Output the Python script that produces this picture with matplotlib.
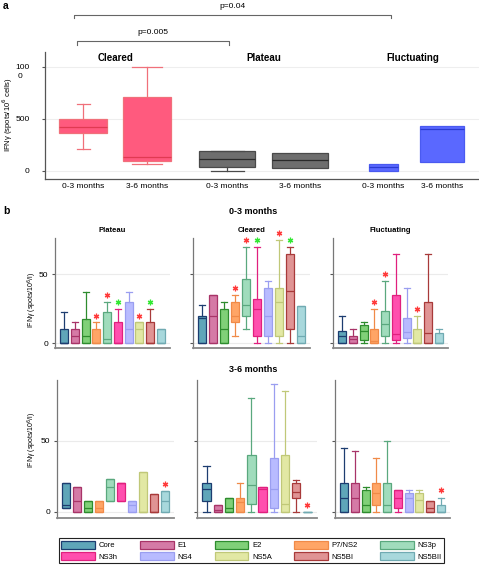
import matplotlib
matplotlib.use("Agg")
import matplotlib.pyplot as plt
from matplotlib.lines import Line2D
from matplotlib.patches import Patch

plt.rcParams['font.family'] = ['Liberation Sans', 'DejaVu Sans']

W, H = 479, 568

# ---- panel a data (IFNg spots / 10^6 cells) ----
a_groups = ['Cleared', 'Plateau', 'Fluctuating']
a_ticklabels = ['0-3 months', '3-6 months'] * 3
a_whislo = [210, 65, 0, 25, 0, 90]
a_q1 = [365, 95, 40, 25, 0, 90]
a_med = [420, 135, 115, 110, 40, 400]
a_q3 = [500, 710, 190, 170, 70, 435]
a_whishi = [640, 1000, 190, 170, 70, 435]
a_pvals = ['p=0.005', 'p=0.04']

# ---- panel b data: (whislo, q1, med, q3, whishi) per antigen ----
antigens = ['Core', 'E1', 'E2', 'P7/NS2', 'NS3p', 'NS3h', 'NS4', 'NS5A', 'NS5BI', 'NS5BII']
b_titles = ['Plateau', 'Cleared', 'Fluctuating']

early_plateau = [(0, 0, 0, 10, 22.5), (0, 0, 5.3, 10, 15), (0, 0, 5.3, 17.4, 37),
                 (0, 0, 0, 10, 15), (0, 0, 3, 22.5, 30), (0, 0, 0, 15, 25),
                 (0, 0, 10, 30, 37), (0, 0, 10, 15, 15), (0, 0, 0, 15, 25),
                 (0, 0, 0, 10, 10)]
early_cleared = [(0, 0, 18, 20, 28), (0, 0, 20, 35, 35), (0, 0, 10, 25, 30),
                 (5, 15, 20, 30, 35), (10, 20, 28, 47, 70), (0, 5, 25, 32, 70),
                 (0, 5, 20, 40, 45), (0, 5, 30, 40, 75), (0, 10, 38, 65, 70),
                 (0, 0, 5, 27, 27)]
early_fluct = [(0, 0, 5, 9, 20), (0, 0, 3, 5, 10), (0, 2.5, 9, 13, 15.5),
               (0, 0, 1.3, 10, 25), (0, 5, 14, 23.5, 45), (0, 2.3, 6.5, 35, 65),
               (0, 4, 8, 18.5, 40), (0, 0, 0, 10, 20), (0, 0, 7, 30, 65),
               (0, 0, 0, 7.5, 10)]
late_plateau = [(2.8, 2.8, 5, 20, 20), (0, 0, 7.7, 17.6, 17.6), (0, 0, 2.8, 7.7, 7.7),
                (0, 0, 2.8, 7.7, 7.7), (7.7, 7.7, 17.6, 22.8, 22.8), (7.7, 7.7, 20, 20, 20),
                (0, 0, 5, 7.7, 7.7), (0, 0, 0, 27.7, 27.7), (0, 0, 0, 12.7, 12.7),
                (0, 0, 7.7, 14.8, 14.8)]
late_cleared = [(0, 7.5, 16.2, 20, 32.4), (0, 0, 1.4, 4.7, 4.7), (0, 0, 2.3, 9.9, 9.9),
                (0, 0, 6.6, 9.9, 20), (0, 5.2, 18.8, 40, 80), (0, 0, 16.2, 17.4, 17.4),
                (0, 2.3, 16.2, 37.6, 90), (0, 0, 5.2, 40, 85), (0, 9.9, 13.6, 20, 22.3),
                (0, 0, 0, 0, 0)]
late_fluct = [(0, 0, 10, 20, 45), (0, 0, 10, 20, 42.7), (0, 0, 5, 15, 17.7),
              (0, 5, 13, 20, 38), (0, 0, 5, 20, 50), (0, 2.7, 10, 15, 15),
              (0, 0, 10, 13, 15), (0, 0, 8, 13, 15), (0, 0, 2.7, 7.8, 7.8),
              (0, 0, 0, 5, 10)]

# significance stars: (antigen index, 'r' or 'g')
early_stars = [[(3, 'r'), (4, 'r'), (5, 'g'), (7, 'r'), (8, 'g')],
               [(3, 'r'), (4, 'r'), (5, 'g'), (7, 'r'), (8, 'g')],
               [(3, 'r'), (4, 'r'), (7, 'r')]]
late_stars = [[(9, 'r')], [(9, 'r')], [(9, 'r')]]

fills = ['#5fa6b9', '#d57aa6', '#80d078', '#ffa566', '#a0dcbc',
         '#ff4fae', '#b8bbff', '#e2e8a4', '#e09494', '#a8d8dc']
edges = ['#1d3d70', '#a83468', '#2e8c2e', '#f08a48', '#5aa87e',
         '#e0207e', '#9a9ef0', '#c0c878', '#a83a3a', '#70aab2']
star_col = {'r': '#ff3b3b', 'g': '#33e833'}


def px_axes(fig, l, t, r, b):
    return fig.add_axes([l / W, 1 - b / H, (r - l) / W, (b - t) / H])


fig = plt.figure(figsize=(W / 100, H / 100), dpi=100)

# ================= panel a =================
axa = px_axes(fig, 45, 52, 479, 179)
a_pos = [38, 102, 182, 255, 338, 397]
a_wid = [48, 48, 56, 56, 29, 44]
a_cap = [13, 30, 33, 0, 0, 0]
a_fill = ['#ff5a7e', '#ff5a7e', '#6e6e6e', '#6e6e6e', '#5a68ff', '#5a68ff']
a_edge = ['#f0707a', '#f0707a', '#4a4a4a', '#4a4a4a', '#4a5af0', '#4a5af0']
a_medc = ['#e03a52', '#e03a52', '#2a2a2a', '#2a2a2a', '#2a3ad0', '#2a3ad0']

stats = [dict(whislo=a_whislo[i], q1=a_q1[i], med=a_med[i], q3=a_q3[i],
              whishi=a_whishi[i], fliers=[]) for i in range(6)]
res = axa.bxp(stats, positions=a_pos, widths=a_wid, capwidths=a_cap,
              patch_artist=True, showfliers=False, manage_ticks=False)
for i in range(6):
    res['boxes'][i].set_facecolor(a_fill[i])
    res['boxes'][i].set_edgecolor(a_edge[i])
    res['boxes'][i].set_linewidth(0.9)
    res['medians'][i].set_color(a_medc[i])
    res['medians'][i].set_linewidth(0.9)
    for ln in res['whiskers'][2 * i:2 * i + 2] + res['caps'][2 * i:2 * i + 2]:
        ln.set_color(a_edge[i])
        ln.set_linewidth(0.9)

axa.set_xlim(0, 434)
axa.set_ylim(-77, 1144)
axa.set_yticks([0, 500, 1000])
axa.set_yticklabels(['0', '500', '100'])
axa.set_xticks(a_pos)
axa.set_xticklabels(a_ticklabels)
axa.tick_params(axis='x', length=0, pad=3, labelsize=6)
axa.tick_params(axis='y', length=2, pad=9, labelsize=6, color='#555555')
axa.grid(axis='y', color='#eeeeee', linewidth=0.8)
axa.set_axisbelow(True)
for s in ['top', 'right']:
    axa.spines[s].set_visible(False)
for s in ['left', 'bottom']:
    axa.spines[s].set_color('#555555')
    axa.spines[s].set_linewidth(0.9)
fig.text(20.5 / W, 1 - 77 / H, '0', ha='center', va='center', fontsize=6)

for gi, g in enumerate(a_groups):
    cx = (a_pos[2 * gi] + a_pos[2 * gi + 1]) / 2
    axa.text(cx, 1087, g, ha='center', va='center', fontsize=7, fontweight='bold')

# brackets
def ypx(v):
    return (171 - v) * 1000 / 104

for (x0, x1, yb, yt, ty, lab) in [(32, 184, 41, 45, 33, a_pvals[0]),
                                   (29, 346, 15, 18, 7, a_pvals[1])]:
    axa.plot([x0, x0, x1, x1], [ypx(yt), ypx(yb), ypx(yb), ypx(yt)],
             color='#666666', lw=0.8, clip_on=False)
    axa.text((x0 + x1) / 2, ypx(ty), lab, ha='center', va='center', fontsize=6)

fig.text(8 / W, 1 - 115 / H, 'IFNγ (spots/10$^6$ cells)', rotation=90,
         ha='center', va='center', fontsize=5.5)
fig.text(3 / W, 1 - 6 / H, 'a', fontsize=7.5, fontweight='bold', va='center')

# ================= panel b =================
fig.text(3 / W, 1 - 211 / H, 'b', fontsize=7.5, fontweight='bold', va='center')
fig.text(253 / W, 1 - 211 / H, '0-3 months', fontsize=6.5, fontweight='bold',
         ha='center', va='center')
fig.text(253 / W, 1 - 369 / H, '3-6 months', fontsize=6.5, fontweight='bold',
         ha='center', va='center')

rows = [
    dict(data=[early_plateau, early_cleared, early_fluct], stars=early_stars,
         boxes=[(55, 238, 170, 348), (193, 238, 310, 348), (333, 238, 448, 348)],
         ylim=(-3.6, 76.5), titles=True, ylab_y=300),
    dict(data=[late_plateau, late_cleared, late_fluct], stars=late_stars,
         boxes=[(57, 380, 174, 518), (197, 380, 317, 518), (335, 380, 450, 518)],
         ylim=(-4.4, 92.7), titles=False, ylab_y=440),
]
pos = list(range(1, 11))
for row in rows:
    for pi in range(3):
        ax = px_axes(fig, *row['boxes'][pi])
        st = [dict(whislo=d[0], q1=d[1], med=d[2], q3=d[3], whishi=d[4], fliers=[])
              for d in row['data'][pi]]
        r = ax.bxp(st, positions=pos, widths=0.75, capwidths=0.55,
                   patch_artist=True, showfliers=False, manage_ticks=False)
        for i in range(10):
            r['boxes'][i].set_facecolor(fills[i])
            r['boxes'][i].set_edgecolor(edges[i])
            r['boxes'][i].set_linewidth(0.9)
            r['medians'][i].set_color(edges[i])
            r['medians'][i].set_linewidth(0.9)
            for ln in r['whiskers'][2 * i:2 * i + 2] + r['caps'][2 * i:2 * i + 2]:
                ln.set_color(edges[i])
                ln.set_linewidth(0.9)
        for idx, c in row['stars'][pi]:
            ax.plot(pos[idx], row['data'][pi][idx][4] + 5, marker=(6, 2, 0),
                    ms=4, mew=0.9, color=star_col[c], clip_on=False)
        ax.set_xlim(0.15, 10.85)
        ax.set_ylim(*row['ylim'])
        ax.set_yticks([0, 50])
        ax.set_xticks([])
        ax.grid(axis='y', color='#ebebeb', linewidth=0.8)
        ax.set_axisbelow(True)
        ax.tick_params(axis='y', length=2, pad=3, labelsize=6, color='#555555',
                       labelleft=(pi == 0))
        for s in ['top', 'right']:
            ax.spines[s].set_visible(False)
        ax.spines['left'].set_color('#777777')
        ax.spines['left'].set_linewidth(0.9)
        ax.spines['bottom'].set_color('#888888')
        ax.spines['bottom'].set_linewidth(1.3)
        if row['titles']:
            ax.set_title(b_titles[pi], fontsize=5.5, fontweight='bold', pad=4)
    fig.text(32 / W, 1 - row['ylab_y'] / H, 'IFNγ (spots/10$^6$/l)', rotation=90,
             ha='center', va='center', fontsize=5)

# legend, two rows of five
order = [0, 5, 1, 6, 2, 7, 3, 8, 4, 9]
handles = [Patch(facecolor=fills[i], edgecolor=edges[i], linewidth=0.9) for i in order]
labels = [antigens[i] for i in order]
leg = fig.legend(handles, labels, ncol=5, loc='lower left',
                 bbox_to_anchor=(55 / W, 1 / H, 393 / W, 33 / H), mode='expand',
                 fontsize=5.5, handlelength=4.4, handleheight=1.3, handletextpad=0.5,
                 columnspacing=1.0, labelspacing=0.35, borderpad=0.3,
                 fancybox=False, edgecolor='#222222', framealpha=1)
leg.get_frame().set_linewidth(0.8)

fig.savefig('out.png', dpi=100)
